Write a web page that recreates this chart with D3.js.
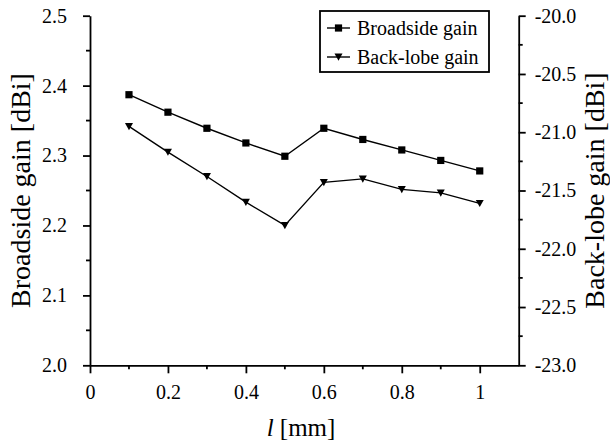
<!DOCTYPE html>
<html>
<head>
<meta charset="utf-8">
<script src="https://cdn.jsdelivr.net/npm/d3@7"></script>
<style>
  html, body { margin: 0; padding: 0; background: #fff; }
  svg { display: block; font-family: "Liberation Serif", "Times New Roman", serif; }
</style>
</head>
<body>
<svg id="chart" width="610" height="443"></svg>
<script>
// Slot length l [mm]
const lengths = [0.1, 0.2, 0.3, 0.4, 0.5, 0.6, 0.7, 0.8, 0.9, 1.0];
// Broadside gain [dBi] (left axis)
const broadside = [2.387, 2.362, 2.339, 2.318, 2.299, 2.339, 2.323, 2.308, 2.293, 2.278];
// Back-lobe gain [dBi] (right axis)
const backlobe = [-20.95, -21.17, -21.38, -21.60, -21.80, -21.43, -21.40, -21.49, -21.52, -21.61];

const xTicks = [0, 0.2, 0.4, 0.6, 0.8, 1.0];
const xMinor = [0.1, 0.3, 0.5, 0.7, 0.9];
const yLeftTicks = [2.0, 2.1, 2.2, 2.3, 2.4, 2.5];
const yLeftMinor = [2.05, 2.15, 2.25, 2.35, 2.45];
const yRightTicks = [-23.0, -22.5, -22.0, -21.5, -21.0, -20.5, -20.0];
const yRightMinor = [-22.75, -22.25, -21.75, -21.25, -20.75, -20.25];
const seriesNames = ["Broadside gain", "Back-lobe gain"];

const svg = d3.select("#chart");
const plot = { left: 90, right: 518.7, top: 15.7, bottom: 365.3 };

const x = d3.scaleLinear().domain([0, 1.1]).range([plot.left, plot.right]);
const yL = d3.scaleLinear().domain([2.0, 2.5]).range([plot.bottom, plot.top]);
const yR = d3.scaleLinear().domain([-23.0, -20.0]).range([plot.bottom, plot.top]);

const tickFont = 20;
const titleFont = 28;
const axisStroke = 1.8;

function styleAxis(g) {
  g.selectAll("path.domain").attr("stroke", "#000").attr("stroke-width", axisStroke);
  g.selectAll(".tick line").attr("stroke", "#000").attr("stroke-width", axisStroke);
  g.selectAll(".tick text").attr("fill", "#000")
    .style("font-family", "'Liberation Serif', serif").style("font-size", tickFont + "px");
}

// Bottom axis
const gx = svg.append("g").attr("transform", `translate(0,${plot.bottom})`)
  .call(d3.axisBottom(x).tickValues(xTicks).tickSizeInner(8).tickSizeOuter(0).tickPadding(12)
    .tickFormat(d => d3.format("~g")(d)))
  .call(styleAxis);
gx.append("g").selectAll("line").data(xMinor).join("line")
  .attr("x1", d => x(d)).attr("x2", d => x(d)).attr("y1", 0).attr("y2", 4)
  .attr("stroke", "#000").attr("stroke-width", axisStroke);

// Left axis
const gl = svg.append("g").attr("transform", `translate(${plot.left},0)`)
  .call(d3.axisLeft(yL).tickValues(yLeftTicks).tickSizeInner(7).tickSizeOuter(0).tickPadding(16)
    .tickFormat(d3.format(".1f")))
  .call(styleAxis);
gl.append("g").selectAll("line").data(yLeftMinor).join("line")
  .attr("y1", d => yL(d)).attr("y2", d => yL(d)).attr("x1", 0).attr("x2", -4)
  .attr("stroke", "#000").attr("stroke-width", axisStroke);

// Right axis
const gr = svg.append("g").attr("transform", `translate(${plot.right},0)`)
  .call(d3.axisRight(yR).tickValues(yRightTicks).tickSizeInner(7).tickSizeOuter(0).tickPadding(9)
    .tickFormat(d => d.toFixed(1)))
  .call(styleAxis);
gr.append("g").selectAll("line").data(yRightMinor).join("line")
  .attr("y1", d => yR(d)).attr("y2", d => yR(d)).attr("x1", 0).attr("x2", 4)
  .attr("stroke", "#000").attr("stroke-width", axisStroke);

// Axis titles
svg.append("text")
  .attr("transform", `translate(30,${(plot.top + plot.bottom) / 2}) rotate(-90)`)
  .attr("text-anchor", "middle").style("font-size", titleFont + "px")
  .text("Broadside gain [dBi]");
svg.append("text")
  .attr("transform", `translate(604,${(plot.top + plot.bottom) / 2}) rotate(-90)`)
  .attr("text-anchor", "middle").style("font-size", titleFont + "px")
  .text("Back-lobe gain [dBi]");
const xt = svg.append("text")
  .attr("x", 301).attr("y", 436)
  .attr("text-anchor", "middle").style("font-size", "25px");
xt.append("tspan").style("font-style", "italic").text("l");
xt.append("tspan").text(" [mm]");

// Markers
const trianglePath = s => `M${-s},${-s * 0.85}L${s},${-s * 0.85}L0,${s * 0.95}Z`;
function drawSquare(sel) {
  sel.append("rect").attr("x", -3.6).attr("y", -3.6).attr("width", 7.2).attr("height", 7.2).attr("fill", "#000");
}
function drawTriangle(sel) {
  sel.append("path").attr("d", trianglePath(4)).attr("fill", "#000");
}

const line = yScale => d3.line().x(d => x(d[0])).y(d => yScale(d[1]));

const bsData = lengths.map((l, i) => [l, broadside[i]]);
const blData = lengths.map((l, i) => [l, backlobe[i]]);

svg.append("path").datum(bsData).attr("d", line(yL))
  .attr("fill", "none").attr("stroke", "#000").attr("stroke-width", 1.4);
svg.append("path").datum(blData).attr("d", line(yR))
  .attr("fill", "none").attr("stroke", "#000").attr("stroke-width", 1.4);

svg.append("g").selectAll("g").data(bsData).join("g")
  .attr("transform", d => `translate(${x(d[0])},${yL(d[1])})`).call(drawSquare);
svg.append("g").selectAll("g").data(blData).join("g")
  .attr("transform", d => `translate(${x(d[0])},${yR(d[1])})`).call(drawTriangle);

// Legend
const legend = svg.append("g");
legend.append("rect").attr("x", 320).attr("y", 11).attr("width", 169).attr("height", 61)
  .attr("fill", "#fff").attr("stroke", "#000").attr("stroke-width", 1.8);
const rows = [
  { name: seriesNames[0], y: 28, marker: drawSquare },
  { name: seriesNames[1], y: 57, marker: drawTriangle }
];
rows.forEach(r => {
  const g = legend.append("g").attr("transform", `translate(0,${r.y})`);
  g.append("line").attr("x1", 327).attr("x2", 350).attr("y1", 0).attr("y2", 0)
    .attr("stroke", "#000").attr("stroke-width", 1.4);
  g.append("g").attr("transform", "translate(338.5,0)").call(r.marker);
  g.append("text").attr("x", 357).attr("y", 0).attr("dy", "0.35em")
    .style("font-size", tickFont + "px").text(r.name);
});
</script>
</body>
</html>
